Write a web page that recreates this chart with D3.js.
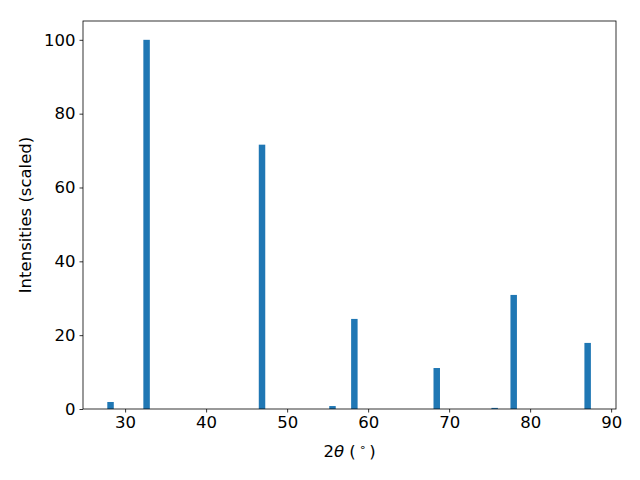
<!DOCTYPE html>
<html>
<head>
<meta charset="utf-8">
<script src="https://cdn.jsdelivr.net/npm/d3@7"></script>
<style>
  body { margin: 0; background: #fff; }
  text { font-family: "DejaVu Sans", sans-serif; }
</style>
</head>
<body>
<div id="chart"></div>
<script>
// peak positions (2theta, degrees) and scaled intensities
const twoTheta = [28.2, 32.65, 46.9, 55.6, 58.3, 68.47, 75.62, 77.97, 87.1];
const intensity = [1.9, 100, 71.6, 0.8, 24.4, 11.1, 0.3, 30.9, 17.9];
const xTicks = [30, 40, 50, 60, 70, 80, 90];
const yTicks = [0, 20, 40, 60, 80, 100];
const barWidth = 0.8;

const width = 640, height = 480;
const margin = {top: 21, right: 24, bottom: 71, left: 83};
const fontSize = 16.5;

const svg = d3.select("#chart")
  .append("svg")
  .attr("width", width)
  .attr("height", height);

const x = d3.scaleLinear()
  .domain([24.8, 90.6])
  .range([margin.left, width - margin.right]);

const y = d3.scaleLinear()
  .domain([0, 105.1])
  .range([height - margin.bottom, margin.top]);

svg.append("g")
  .selectAll("rect")
  .data(twoTheta)
  .join("rect")
  .attr("x", d => x(d - barWidth / 2))
  .attr("width", d => x(d + barWidth / 2) - x(d - barWidth / 2))
  .attr("y", (d, i) => y(intensity[i]))
  .attr("height", (d, i) => y(0) - y(intensity[i]))
  .attr("fill", "#1f77b4");

const xAxis = svg.append("g")
  .attr("transform", `translate(0,${height - margin.bottom})`)
  .call(d3.axisBottom(x).tickValues(xTicks).tickSize(3.5).tickPadding(4));

const yAxis = svg.append("g")
  .attr("transform", `translate(${margin.left},0)`)
  .call(d3.axisLeft(y).tickValues(yTicks).tickSize(3.5).tickPadding(4));

[xAxis, yAxis].forEach(g => {
  g.select(".domain").remove();
  g.selectAll("text")
    .attr("font-family", "DejaVu Sans, sans-serif")
    .attr("font-size", fontSize)
    .attr("fill", "#000");
  g.selectAll("line").attr("stroke", "#000").attr("stroke-width", 0.8);
});

// frame
svg.append("rect")
  .attr("x", margin.left)
  .attr("y", margin.top)
  .attr("width", width - margin.left - margin.right)
  .attr("height", height - margin.top - margin.bottom)
  .attr("fill", "none")
  .attr("stroke", "#000")
  .attr("stroke-width", 0.8);

// x label: 2θ (°)
const xl = svg.append("text")
  .attr("x", (margin.left + width - margin.right) / 2)
  .attr("y", 457)
  .attr("text-anchor", "middle")
  .attr("font-size", fontSize)
  .attr("fill", "#000");
xl.append("tspan").text("2");
xl.append("tspan").attr("font-style", "italic").text("θ");
xl.append("tspan").text(" (\u2009");
xl.append("tspan").attr("font-size", 11).attr("dy", -6).text("∘");
xl.append("tspan").attr("dy", 6).text("\u2009)");

svg.append("text")
  .attr("transform", `translate(31,${(margin.top + height - margin.bottom) / 2}) rotate(-90)`)
  .attr("text-anchor", "middle")
  .attr("font-size", fontSize)
  .attr("fill", "#000")
  .text("Intensities (scaled)");
</script>
</body>
</html>
